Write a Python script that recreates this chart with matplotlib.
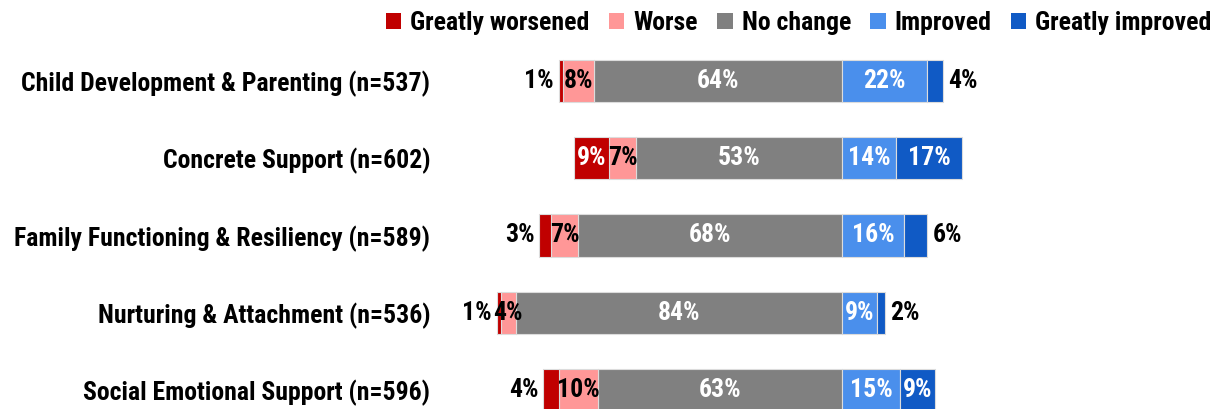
import matplotlib
matplotlib.use("Agg")
import matplotlib.pyplot as plt
from matplotlib.patches import Patch
from matplotlib import font_manager as fm
import numpy as np

categories = [
    "Child Development & Parenting (n=537)",
    "Concrete Support (n=602)",
    "Family Functioning & Resiliency (n=589)",
    "Nurturing & Attachment (n=536)",
    "Social Emotional Support (n=596)",
]
greatly_worsened = [1, 9, 3, 1, 4]
worse = [8, 7, 7, 4, 10]
no_change = [64, 53, 68, 84, 63]
improved = [22, 14, 16, 9, 15]
greatly_improved = [4, 17, 6, 2, 9]

series_names = ["Greatly worsened", "Worse", "No change", "Improved", "Greatly improved"]
colors = ["#C00000", "#FF9797", "#808080", "#4A8FEC", "#105AC5"]

# pick a narrow font if one is installed
names = {f.name for f in fm.fontManager.ttflist}
stretch = "normal"
family = None
for cand in ["Liberation Sans Narrow", "Arial Narrow", "Roboto Condensed",
             "Open Sans Condensed", "Noto Sans Condensed", "DejaVu Sans Condensed"]:
    if cand in names:
        family = cand
        break
if family is None:
    for f in fm.fontManager.ttflist:
        st = f.stretch
        if (isinstance(st, str) and "condensed" in st) or (isinstance(st, (int, float)) and st < 500):
            if f.name in ("DejaVu Sans", "Noto Sans", "Roboto", "Open Sans"):
                family = f.name
                stretch = "condensed"
                break
if family is None:
    family = "Liberation Sans"
FONT = [family, "Liberation Sans", "DejaVu Sans"]
plt.rcParams["font.family"] = FONT
plt.rcParams["font.weight"] = "bold"
plt.rcParams["font.stretch"] = stretch

W, H = 1225, 409
fig = plt.figure(figsize=(W / 100, H / 100), dpi=100)

# fit font size so the longest label spans like the reference (~408 px)
renderer = fig.canvas.get_renderer()
probe = fig.text(0, 0, categories[0], fontsize=17, fontweight="bold")
wpx = probe.get_window_extent(renderer).width
probe.remove()
fs = min(21.0, 17.0 * 408.0 / wpx)

zero_px = 842.0
scale = 3.88  # px per percent
ax_left_px, ax_right_px = 440, 1225
ax_top_px, ax_bot_px = 42, 409
ax = fig.add_axes([ax_left_px / W, 1 - ax_bot_px / H,
                   (ax_right_px - ax_left_px) / W, (ax_bot_px - ax_top_px) / H])
ax.set_xlim((ax_left_px - zero_px) / scale, (ax_right_px - zero_px) / scale)
row0, rstep = 81.0, 77.25
ax.set_ylim((ax_bot_px - row0) / rstep, (ax_top_px - row0) / rstep)

y = np.arange(len(categories))
gw = np.array(greatly_worsened, float)
wo = np.array(worse, float)
nc = np.array(no_change, float)
im = np.array(improved, float)
gi = np.array(greatly_improved, float)

h = 0.545
ec = "#dcdcdc"
lw = 0.8
left_nc = -nc
left_wo = left_nc - wo
left_gw = left_wo - gw
ax.barh(y, nc, left=left_nc, height=h, color=colors[2], edgecolor=ec, linewidth=lw)
ax.barh(y, wo, left=left_wo, height=h, color=colors[1], edgecolor=ec, linewidth=lw)
ax.barh(y, gw, left=left_gw, height=h, color=colors[0], edgecolor=ec, linewidth=lw)
ax.barh(y, im, left=0, height=h, color=colors[3], edgecolor=ec, linewidth=lw)
ax.barh(y, gi, left=im, height=h, color=colors[4], edgecolor=ec, linewidth=lw)

lfs = fs
off = 1.3
for i in range(len(categories)):
    if gw[i] >= 7:
        ax.text(left_gw[i] + gw[i] / 2, i, f"{int(gw[i])}%", ha="center", va="center",
                color="white", fontsize=lfs, fontweight="bold")
    else:
        ax.text(left_gw[i] - off, i, f"{int(gw[i])}%", ha="right", va="center",
                color="black", fontsize=lfs, fontweight="bold")
    ax.text(left_wo[i] + wo[i] / 2, i, f"{int(wo[i])}%", ha="center", va="center",
            color="black", fontsize=lfs, fontweight="bold")
    ax.text(left_nc[i] + nc[i] / 2, i, f"{int(nc[i])}%", ha="center", va="center",
            color="white", fontsize=lfs, fontweight="bold")
    ax.text(im[i] / 2, i, f"{int(im[i])}%", ha="center", va="center",
            color="white", fontsize=lfs, fontweight="bold")
    if gi[i] >= 7:
        ax.text(im[i] + gi[i] / 2, i, f"{int(gi[i])}%", ha="center", va="center",
                color="white", fontsize=lfs, fontweight="bold")
    else:
        ax.text(im[i] + gi[i] + off, i, f"{int(gi[i])}%", ha="left", va="center",
                color="black", fontsize=lfs, fontweight="bold")

ax.set_yticks(y)
ax.set_yticklabels(categories, fontsize=fs, fontweight="bold")
ax.tick_params(axis="y", length=0, pad=7)
ax.set_xticks([])
for s in ax.spines.values():
    s.set_visible(False)

handles = [Patch(facecolor=c, edgecolor="none", label=n) for c, n in zip(colors, series_names)]
leg = fig.legend(handles=handles, loc="upper right", bbox_to_anchor=(1222 / W, 1 - 1 / H),
                 ncol=5, frameon=False, fontsize=fs, handlelength=0.6, handleheight=0.6,
                 handletextpad=0.35, columnspacing=0.75, borderaxespad=0)
for t in leg.get_texts():
    t.set_fontweight("bold")

fig.savefig("out.png", dpi=100)
